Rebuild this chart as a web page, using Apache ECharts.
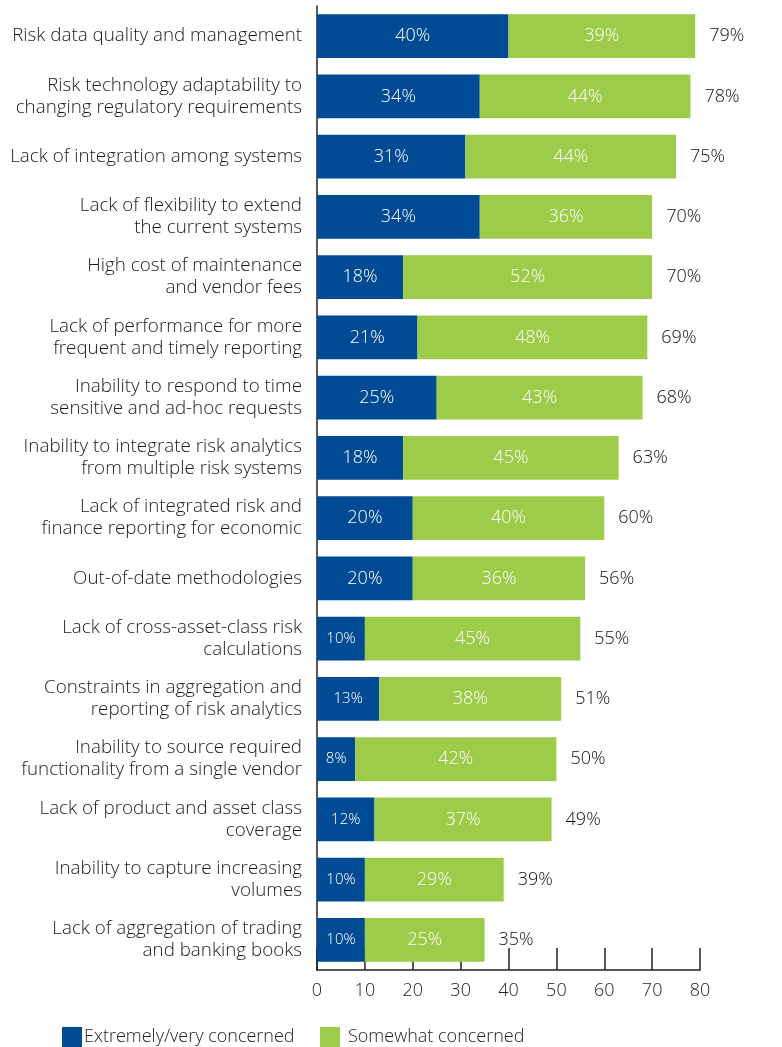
<!DOCTYPE html>
<html><head><meta charset="utf-8">
<script src="https://cdn.jsdelivr.net/npm/echarts@6/dist/echarts.min.js"></script>
<style>html,body{margin:0;padding:0;background:#fff}#c{width:782px;height:1047px}</style>
</head><body><div id="c"></div>
<script>
const categories = [
  "Risk data quality and management",
  "Risk technology adaptability to\nchanging regulatory requirements",
  "Lack of integration among systems",
  "Lack of flexibility to extend\nthe current systems",
  "High cost of maintenance\nand vendor fees",
  "Lack of performance for more\nfrequent and timely reporting",
  "Inability to respond to time\nsensitive and ad-hoc requests",
  "Inability to integrate risk analytics\nfrom multiple risk systems",
  "Lack of integrated risk and\nfinance reporting for economic",
  "Out-of-date methodologies",
  "Lack of cross-asset-class risk\ncalculations",
  "Constraints in aggregation and\nreporting of risk analytics",
  "Inability to source required\nfunctionality from a single vendor",
  "Lack of product and asset class\ncoverage",
  "Inability to capture increasing\nvolumes",
  "Lack of aggregation of trading\nand banking books"
];
const extremely = [40,34,31,34,18,21,25,18,20,20,10,13,8,12,10,10];
const somewhat  = [39,44,44,36,52,48,43,45,40,36,45,38,42,37,29,25];
const totals    = [79,78,75,70,70,69,68,63,60,56,55,51,50,49,39,35];
const xTicks = [0,10,20,30,40,50,60,70,80];
const seriesNames = ["Extremely/very concerned","Somewhat concerned"];

const FONT = "Open Sans";
const W = 300;
const BLUE = "#004b93", GREEN = "#9dcb4a";
const chart = echarts.init(document.getElementById('c'));
function inLabel(v){ return v < 15 ? {fontSize:15} : {fontSize:18}; }
chart.setOption({
  animation:false,
  textStyle:{fontFamily:FONT, fontWeight:W},
  grid:{left:317, right:82, top:6, bottom:77, containLabel:false},
  legend:[
    {data:[seriesNames[0]], left:57, top:1022, itemWidth:20, itemHeight:20, itemGap:0,
     icon:'rect', textStyle:{fontSize:18, color:'#222', fontFamily:FONT, fontWeight:W, padding:[0,0,0,-3]}},
    {data:[seriesNames[1]], left:315, top:1022, itemWidth:20, itemHeight:20, itemGap:0,
     icon:'rect', textStyle:{fontSize:18, color:'#222', fontFamily:FONT, fontWeight:W, padding:[0,0,0,3]}}
  ],
  xAxis:{type:'value', min:0, max:80, interval:10,
    axisLine:{show:true, lineStyle:{color:'#222', width:1.5}},
    axisTick:{show:true, inside:true, length:22, lineStyle:{color:'#222', width:1.5}},
    splitLine:{show:false},
    axisLabel:{fontSize:18, color:'#222', margin:12, fontFamily:FONT, fontWeight:W,
      formatter:v=> xTicks.includes(v) ? String(v) : ''}
  },
  yAxis:{type:'category', data:categories, inverse:true,
    axisLine:{show:true, lineStyle:{color:'#222', width:1.5}},
    axisTick:{show:false},
    axisLabel:{fontSize:18.8, color:'#1a1a1a', margin:15, lineHeight:22, align:'right', fontFamily:FONT, fontWeight:W,
      padding:[5,0,0,0]}
  },
  series:[
    {name:seriesNames[0], type:'bar', stack:'a', barCategoryGap:'27%',
     itemStyle:{color:BLUE},
     data:extremely.map(v=>({value:v, label:inLabel(v)})),
     label:{show:true, position:'inside', color:'#fff', fontFamily:FONT, fontWeight:W, formatter:'{c}%'}},
    {name:seriesNames[1], type:'bar', stack:'a', barCategoryGap:'27%',
     itemStyle:{color:GREEN},
     data:somewhat,
     label:{show:true, position:'inside', color:'#fff', fontSize:18, fontFamily:FONT, fontWeight:W, formatter:'{c}%'}},
    {name:'total', type:'bar', stack:'a', barCategoryGap:'27%',
     itemStyle:{color:'rgba(0,0,0,0)'},
     data:totals.map(()=>0),
     label:{show:true, position:'right', distance:14, color:'#111', fontSize:18, fontFamily:FONT, fontWeight:W,
       formatter:p=>totals[p.dataIndex]+'%'}, silent:true}
  ]
});
</script></body></html>
